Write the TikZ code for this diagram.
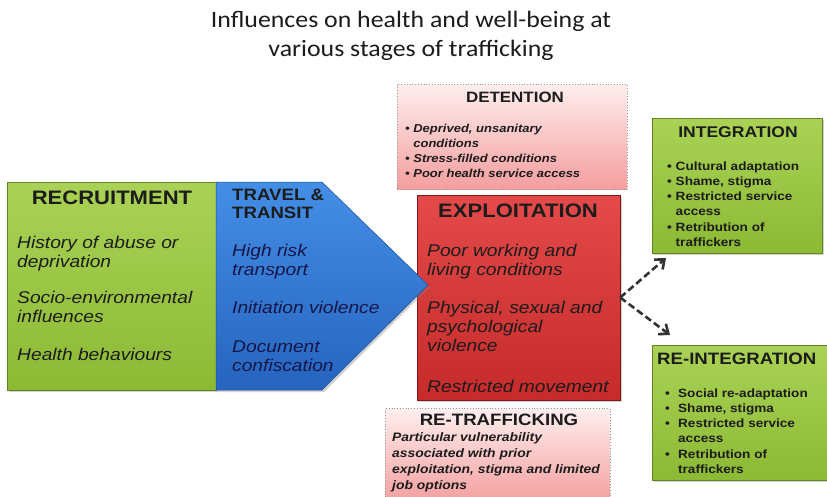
\documentclass[tikz,border=0pt]{standalone}
\usepackage{fontspec}
\setmainfont{Liberation Sans}[FakeStretch=1.13]
\newfontfamily\ttlfont{Carlito}[FakeStretch=1.1]
\usetikzlibrary{arrows.meta,shadows}

\definecolor{limetop}{RGB}{170,210,86}
\definecolor{limebot}{RGB}{140,186,52}
\definecolor{bluetop}{RGB}{68,142,230}
\definecolor{bluebot}{RGB}{38,100,190}
\definecolor{redtop}{RGB}{228,74,74}
\definecolor{redbot}{RGB}{198,42,42}
\definecolor{pinktop}{RGB}{255,238,238}
\definecolor{pinkbot}{RGB}{244,158,158}
\definecolor{ink}{RGB}{28,28,28}

\begin{document}
\begin{tikzpicture}[x=1pt,y=-1pt,
	shadowed/.style={drop shadow={opacity=0.35,shadow xshift=2pt,shadow yshift=-2pt}},
	greenbox/.style={shadowed,draw=limebot!70!black,line width=0.5pt,top color=limetop,bottom color=limebot,inner sep=0pt},
	redbox/.style={shadowed,draw=redbot!60!black,line width=0.5pt,top color=redtop,bottom color=redbot,inner sep=0pt},
	pinkbox/.style={draw=black!40,dotted,line width=0.8pt,top color=pinktop,bottom color=pinkbot,inner sep=0pt},
	head/.style={font=\fontsize{#1}{#1}\selectfont\bfseries,text=ink,inner sep=0pt,anchor=base},
	itm/.style={font=\fontsize{17}{19}\selectfont\itshape,text=ink,align=left,inner sep=0pt,anchor=base west},
	small/.style={font=\fontsize{12}{15.3}\selectfont\bfseries,text=ink,align=left,inner sep=0pt,anchor=base west},
	dasharr/.style={draw=black!80,dash pattern=on 7pt off 3.5pt,line width=2.6pt,-{Straight Barb[length=8pt,width=13pt]}}]

	\useasboundingbox[fill=white] (0,0) rectangle (827,496);

	% title (multi-line nodes sit on their last baseline)
	\node[font=\ttlfont\fontsize{23.5}{29}\selectfont,align=center,anchor=base,inner sep=0pt,text=ink] (title) at (411,56)
		{Influences on health and well-being at\\various stages of trafficking};

	% boxes
	\node[pinkbox,minimum width=230,minimum height=105] (deten) at (512,136.5) {};
	\node[pinkbox,minimum width=225,minimum height=95] (retraf) at (497.5,456) {};
	\node[greenbox,minimum width=170,minimum height=135] (integ) at (737,185.5) {};
	\node[greenbox,minimum width=180,minimum height=135] (reinteg) at (742,412.5) {};
	\node[greenbox,minimum width=209,minimum height=208] (recruit) at (111.5,286) {};
	\node[redbox,minimum width=203,minimum height=205] (expl) at (518.5,297.5) {};

	% travel arrow
	\shade[shadowed,top color=bluetop,bottom color=bluebot,draw=bluebot!80!black,line width=0.5pt]
		(216,182) -- (322,182) -- (428,285) -- (322,390) -- (216,390) -- cycle;

	% recruitment
	\node[head=19.5] (recT) at (112,204) {RECRUITMENT};
	\node[itm] (rec1) at (17,267) {History of abuse or\\deprivation};
	\node[itm] (rec2) at (17,322) {Socio-environmental\\influences};
	\node[itm] (rec3) at (17,360) {Health behaviours};

	% travel
	\node[head=16.5,align=left,anchor=base west,font=\fontsize{16.5}{18}\selectfont\bfseries] (travT) at (232,218) {TRAVEL \&\\TRANSIT};
	\node[itm,text=ink!80!blue] (trav1) at (232,275) {High risk\\transport};
	\node[itm,text=ink!80!blue] (trav2) at (232,313) {Initiation violence};
	\node[itm,text=ink!80!blue] (trav3) at (232,371) {Document\\confiscation};

	% exploitation
	\node[head=19.5] (explT) at (518,217) {EXPLOITATION};
	\node[itm] (expl1) at (427,275) {Poor working and\\living conditions};
	\node[itm] (expl2) at (427,351) {Physical, sexual and\\psychological\\violence};
	\node[itm] (expl3) at (427,392) {Restricted movement};

	% detention
	\node[head=15] (detT) at (515,102) {DETENTION};
	\node[small,font=\fontsize{11.5}{15}\selectfont\bfseries\itshape] (det1) at (405,177)
		{• Deprived, unsanitary\\\phantom{• }conditions\\• Stress-filled conditions\\• Poor health service access};

	% re-trafficking
	\node[head=16.5] (retT) at (499,425) {RE-TRAFFICKING};
	\node[small,font=\fontsize{12.3}{16}\selectfont\bfseries\itshape] (ret1) at (392,489)
		{Particular vulnerability\\associated with prior\\exploitation, stigma and limited\\job options};

	% integration
	\node[head=15.5] (intT) at (738,137) {INTEGRATION};
	\node[small] (int1) at (667,246.5)
		{• Cultural adaptation\\• Shame, stigma\\• Restricted service\\\phantom{• }access\\• Retribution of\\\phantom{• }traffickers};

	% re-integration
	\node[head=16.5,anchor=base west] (reintT) at (657,364) {RE-INTEGRATION};
	\node[small] (reint1) at (665,473.5)
		{\makebox[13pt][l]{•}Social re-adaptation\\\makebox[13pt][l]{•}Shame, stigma\\\makebox[13pt][l]{•}Restricted service\\\hspace*{13pt}access\\\makebox[13pt][l]{•}Retribution of\\\hspace*{13pt}traffickers};

	% outcomes
	\coordinate (intEnd) at (666,258);
	\coordinate (reintEnd) at (670,335);
	\draw[dasharr] (expl.east) -- (intEnd);
	\draw[dasharr] (expl.east) -- (reintEnd);

\end{tikzpicture}
\end{document}
